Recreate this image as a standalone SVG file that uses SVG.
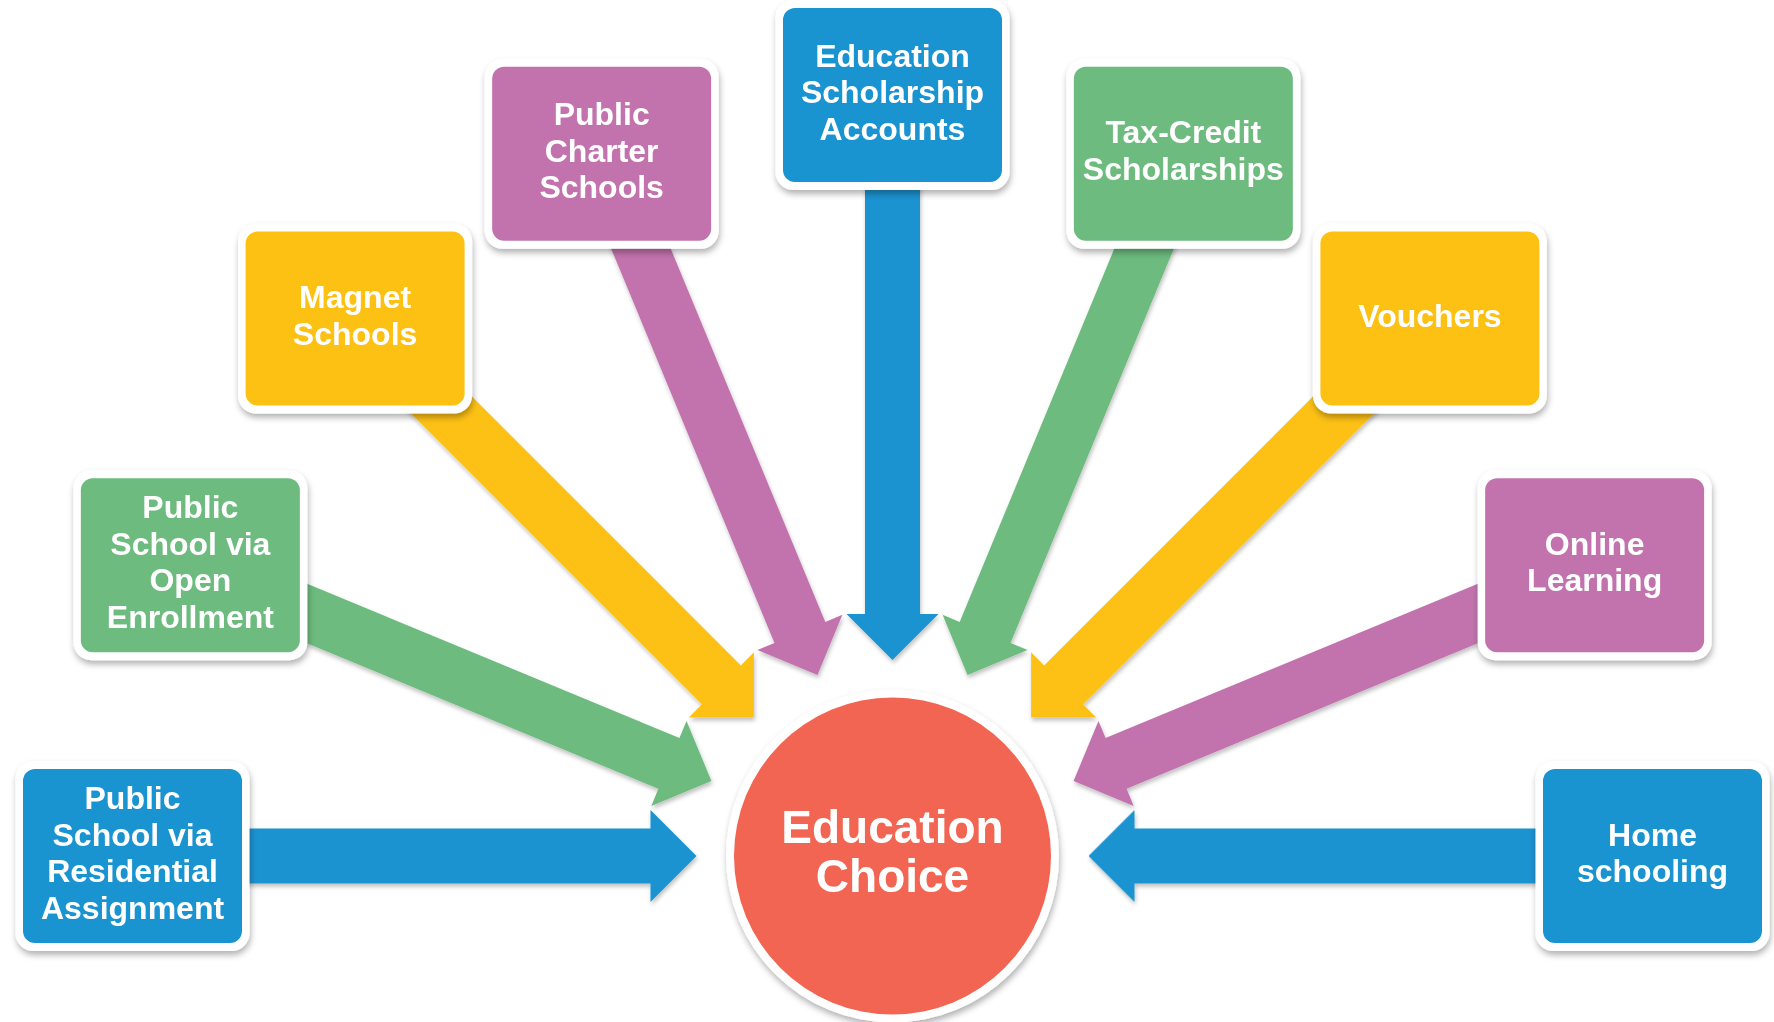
<svg xmlns="http://www.w3.org/2000/svg" xmlns:xlink="http://www.w3.org/1999/xlink" width="1774" height="1022" viewBox="0 0 1774 1022">
<style>
.blue{fill:#1a93d1}
.green{fill:#6dbb7e}
.yellow{fill:#fdc114}
.purple{fill:#c273ad}
.frame{fill:#ffffff}
.lbl{font-family:"Liberation Sans",Arial,sans-serif;font-weight:bold;font-size:32px;fill:#ffffff;text-anchor:middle}
.big{font-family:"Liberation Sans",Arial,sans-serif;font-weight:bold;font-size:46px;fill:#ffffff;text-anchor:middle}
</style>
<defs>
<filter id="sh" x="-20%" y="-20%" width="140%" height="140%">
<feDropShadow dx="1" dy="4" stdDeviation="3" flood-color="#000" flood-opacity="0.3"/>
</filter>
<filter id="ash" x="-10%" y="-30%" width="120%" height="160%">
<feDropShadow dx="1" dy="3" stdDeviation="2" flood-color="#000" flood-opacity="0.25"/>
</filter>
<polygon id="arrow" points="0,0 -46,-46 -46,-27.5 -564,-27.5 -564,27.5 -46,27.5 -46,46"/>
<rect id="outer" x="-117" y="-95" width="234" height="190" rx="18" ry="18"/>
<rect id="inner" x="-109.5" y="-87" width="219" height="174" rx="12" ry="12"/>
</defs>
<rect width="1774" height="1022" fill="#ffffff"/>

<g id="connectors" filter="url(#ash)">
<use xlink:href="#arrow" class="blue" transform="translate(696.5,856) rotate(0)"/>
<use xlink:href="#arrow" class="green" transform="translate(711.42,781) rotate(22.5)"/>
<use xlink:href="#arrow" class="yellow" transform="translate(753.91,717.41) rotate(45)"/>
<use xlink:href="#arrow" class="purple" transform="translate(817.5,674.92) rotate(67.5)"/>
<use xlink:href="#arrow" class="blue" transform="translate(892.5,660) rotate(90)"/>
<use xlink:href="#arrow" class="green" transform="translate(967.5,674.92) rotate(112.5)"/>
<use xlink:href="#arrow" class="yellow" transform="translate(1031.09,717.41) rotate(135)"/>
<use xlink:href="#arrow" class="purple" transform="translate(1073.58,781) rotate(157.5)"/>
<use xlink:href="#arrow" class="blue" transform="translate(1088.5,856) rotate(180)"/>
</g>

<g id="center">
<circle cx="892.5" cy="856" r="166.5" class="frame" filter="url(#sh)"/>
<circle cx="892.5" cy="856" r="158.5" fill="#f26552"/>
<text class="big" x="892.5" y="843">Education</text>
<text class="big" x="892.5" y="892">Choice</text>
</g>

<g id="residential" transform="translate(132.5,856)">
<use xlink:href="#outer" class="frame" filter="url(#sh)"/>
<use xlink:href="#inner" class="blue"/>
<text class="lbl" x="0" y="-47">Public</text>
<text class="lbl" x="0" y="-10.5">School via</text>
<text class="lbl" x="0" y="26">Residential</text>
<text class="lbl" x="0" y="62.5">Assignment</text>
</g>

<g id="open-enrollment" transform="translate(190.35,565.16)">
<use xlink:href="#outer" class="frame" filter="url(#sh)"/>
<use xlink:href="#inner" class="green"/>
<text class="lbl" x="0" y="-47">Public</text>
<text class="lbl" x="0" y="-10.5">School via</text>
<text class="lbl" x="0" y="26">Open</text>
<text class="lbl" x="0" y="62.5">Enrollment</text>
</g>

<g id="magnet" transform="translate(355.1,318.6)">
<use xlink:href="#outer" class="frame" filter="url(#sh)"/>
<use xlink:href="#inner" class="yellow"/>
<text class="lbl" x="0" y="-10.5">Magnet</text>
<text class="lbl" x="0" y="26">Schools</text>
</g>

<g id="charter" transform="translate(601.66,153.85)">
<use xlink:href="#outer" class="frame" filter="url(#sh)"/>
<use xlink:href="#inner" class="purple"/>
<text class="lbl" x="0" y="-28.5">Public</text>
<text class="lbl" x="0" y="8">Charter</text>
<text class="lbl" x="0" y="44.5">Schools</text>
</g>

<g id="esa" transform="translate(892.5,95)">
<use xlink:href="#outer" class="frame" filter="url(#sh)"/>
<use xlink:href="#inner" class="blue"/>
<text class="lbl" x="0" y="-28.5">Education</text>
<text class="lbl" x="0" y="8">Scholarship</text>
<text class="lbl" x="0" y="44.5">Accounts</text>
</g>

<g id="tax-credit" transform="translate(1183.34,153.85)">
<use xlink:href="#outer" class="frame" filter="url(#sh)"/>
<use xlink:href="#inner" class="green"/>
<text class="lbl" x="0" y="-10.5">Tax-Credit</text>
<text class="lbl" x="0" y="26">Scholarships</text>
</g>

<g id="vouchers" transform="translate(1429.9,318.6)">
<use xlink:href="#outer" class="frame" filter="url(#sh)"/>
<use xlink:href="#inner" class="yellow"/>
<text class="lbl" x="0" y="8">Vouchers</text>
</g>

<g id="online" transform="translate(1594.65,565.16)">
<use xlink:href="#outer" class="frame" filter="url(#sh)"/>
<use xlink:href="#inner" class="purple"/>
<text class="lbl" x="0" y="-10.5">Online</text>
<text class="lbl" x="0" y="26">Learning</text>
</g>

<g id="home" transform="translate(1652.5,856)">
<use xlink:href="#outer" class="frame" filter="url(#sh)"/>
<use xlink:href="#inner" class="blue"/>
<text class="lbl" x="0" y="-10.5">Home</text>
<text class="lbl" x="0" y="26">schooling</text>
</g>
</svg>
